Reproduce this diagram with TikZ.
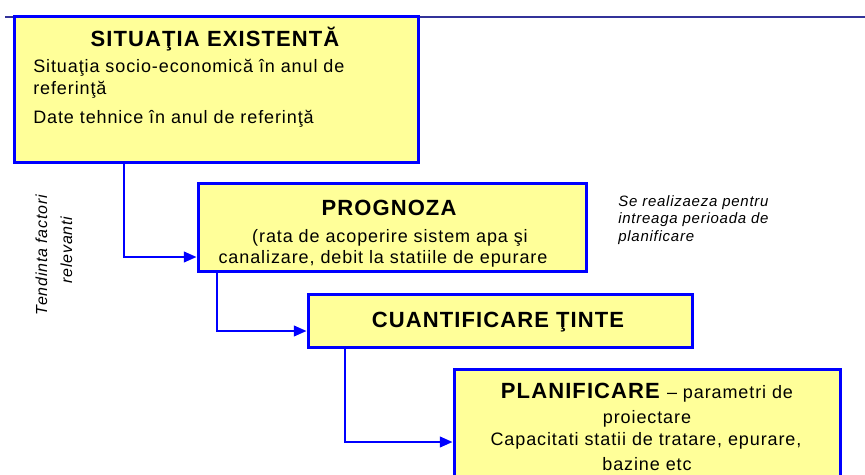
\documentclass[tikz,border=0pt]{standalone}
\usepackage{fontspec}
\setmainfont{Liberation Sans}[LetterSpace=5]
\usetikzlibrary{fit,arrows.meta}
\definecolor{boxfill}{RGB}{255,255,153}
\definecolor{boxline}{RGB}{0,0,255}
\definecolor{rulecol}{RGB}{51,51,153}
\newcommand\ttlfont{\fontsize{16.5pt}{20pt}\selectfont\bfseries}
\newcommand\txtfont{\fontsize{13.5pt}{16pt}\selectfont\mdseries}
\begin{document}
\begin{tikzpicture}[x=0.75pt,y=-0.75pt,
  box/.style={draw=boxline, fill=boxfill, line width=2.25pt, inner sep=0pt},
  conn/.style={draw=boxline, line width=1.5pt, -{Triangle[length=9.5pt,width=8pt]}},
  ttl/.style={font=\ttlfont, anchor=base, inner sep=0pt},
  txt/.style={font=\txtfont, anchor=base west, inner sep=0pt},
  ctxt/.style={font=\txtfont, anchor=base, inner sep=0pt},
  note/.style={font=\fontsize{11.25pt}{13pt}\selectfont\itshape, anchor=base west, inner sep=0pt},
  side/.style={font=\fontsize{12pt}{14pt}\selectfont\itshape, anchor=base, inner sep=0pt, rotate=90},
]
\clip (0,0) rectangle (865,475);
\coordinate (r1) at (5,17);
\coordinate (r2) at (865,17);
\draw[rulecol, line width=1.8pt] (r1) -- (r2);

\node[box, fit={(14,16) (418,162)}] (b1) {};
\node[box, fit={(198,183) (586,271)}] (b2) {};
\node[box, fit={(308,294) (692,347)}] (b3) {};
\node[box, fit={(454,369) (840,495)}] (b4) {};

\coordinate (k1) at (124,257);
\coordinate (k2) at (217,331);
\coordinate (k3) at (345,442);
\draw[conn] (b1.south -| k1) |- (b2.west |- k1);
\draw[conn] (b2.south -| k2) |- (b3.west |- k2);
\draw[conn] (b3.south -| k3) |- (b4.west |- k3);

\node[ttl] (t1) at (215,46) {SITUAŢIA EXISTENTĂ};
\node[txt] (t1a) at (33,72) {Situaţia socio-economică în anul de};
\node[txt] (t1b) at (33,94) {referinţă};
\node[txt] (t1c) at (33,123) {Date tehnice în anul de referinţă};

\node[ttl] (t2) at (389,215) {PROGNOZA};
\node[ctxt] (t2a) at (390,242) {(rata de acoperire sistem apa şi};
\node[ctxt] (t2b) at (383,263) {canalizare, debit la statiile de epurare};

\node[ttl] (t3) at (498,327) {CUANTIFICARE ŢINTE};

\node[anchor=base, inner sep=0pt] (t4) at (647,398) {\ttlfont PLANIFICARE \txtfont – parametri de};
\node[ctxt] (t4b) at (647,423) {proiectare};
\node[ctxt] (t4c) at (646,445) {Capacitati statii de tratare, epurare,};
\node[ctxt] (t4d) at (647,470) {bazine etc};

\node[note] (n1) at (618,206) {Se realizaeza pentru};
\node[note] (n2) at (618,223) {intreaga perioada de};
\node[note] (n3) at (618,241) {planificare};

\node[side] (s1) at (47,255) {Tendinta factori};
\node[side] (s2) at (72,250) {relevanti};
\end{tikzpicture}
\end{document}
